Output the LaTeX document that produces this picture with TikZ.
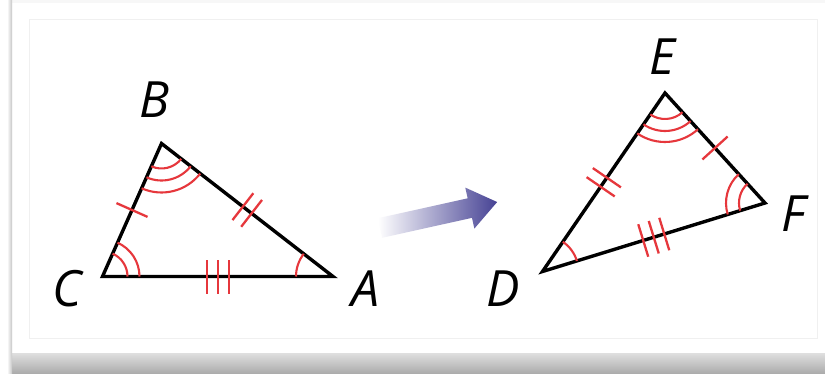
\documentclass[tikz,border=0pt]{standalone}
\usepackage{fontspec}
\setsansfont{Open Sans}
\usetikzlibrary{angles,decorations.markings}
\definecolor{mkred}{RGB}{230,55,60}
\definecolor{arrblue}{RGB}{70,66,148}
\tikzset{
  side/.style={line width=3.4pt,line join=miter},
  ang/.style={draw=mkred,line width=2.1pt},
  tk/.style={draw=mkred,line width=2.3pt},
  lab/.style={font=\fontsize{50}{50}\selectfont\sffamily\itshape,inner sep=0pt},
  t1/.style={decorate,decoration={markings,mark=at position .5 with {\draw[tk] (0,-17pt)--(0,17pt);}}},
  t2/.style={decorate,decoration={markings,mark=at position .5 with {\foreach \s in {-5.5,5.5} \draw[tk] (\s pt,-17pt)--(\s pt,17pt);}}},
  t3/.style={decorate,decoration={markings,mark=at position .5 with {\foreach \s in {-11,0,11} \draw[tk] (\s pt,-17pt)--(\s pt,17pt);}}},
}

\begin{document}
\begin{tikzpicture}[x=1pt,y=1pt]
\useasboundingbox (0,0) rectangle (825,373);
% card and its shadow
\fill[white] (0,0) rectangle (825,373);
\fill[gray!6] (12,370) rectangle (825,373);
\shade[top color=gray!25,bottom color=gray!65] (12,0) rectangle (825,20);
\shade[left color=white,right color=gray!45] (7,0) rectangle (12,373);
\draw[gray!12,fill=white] (29,35) rectangle (817,354);
% first triangle
\coordinate (A) at (333,96.5); \coordinate (B) at (161.5,229.5); \coordinate (C) at (102.5,96.5);
\node[lab] (lA) at (366,84){A}; \node[lab] (lB) at (155,273){B}; \node[lab] (lC) at (67,84){C};
\draw[side] (A)--(B)--(C)--cycle;
\foreach \r in {25,37,49} \pic[ang,angle radius=\r pt]{angle=C--B--A};
\foreach \r in {25,37} \pic[ang,angle radius=\r pt]{angle=A--C--B};
\pic[ang,angle radius=37pt]{angle=B--A--C};
\path[t1] (B)--(C); \path[t2] (A)--(B); \path[t3] (C)--(A);
% second triangle
\coordinate (D) at (542.5,101.5); \coordinate (E) at (665,280); \coordinate (F) at (765,170);
\node[lab] (lD) at (503,84){D}; \node[lab] (lE) at (662,316){E}; \node[lab] (lF) at (793,159){F};
\draw[side] (D)--(E)--(F)--cycle;
\foreach \r in {26,38,49} \pic[ang,angle radius=\r pt]{angle=D--E--F};
\foreach \r in {26,39} \pic[ang,angle radius=\r pt]{angle=E--F--D};
\pic[ang,angle radius=36pt]{angle=F--D--E};
\path[t1] (E)--(F); \path[t2] (D)--(E); \path[t3] (F)--(D);
% arrow
\begin{scope}[shift={(380,145)},rotate=12.5]
\shade[left color=white,middle color=arrblue!75,right color=arrblue]
  (0,-10)--(92,-10)--(92,-21)--(120,0)--(92,21)--(92,10)--(0,10)--cycle;
\end{scope}
\end{tikzpicture}
\end{document}
